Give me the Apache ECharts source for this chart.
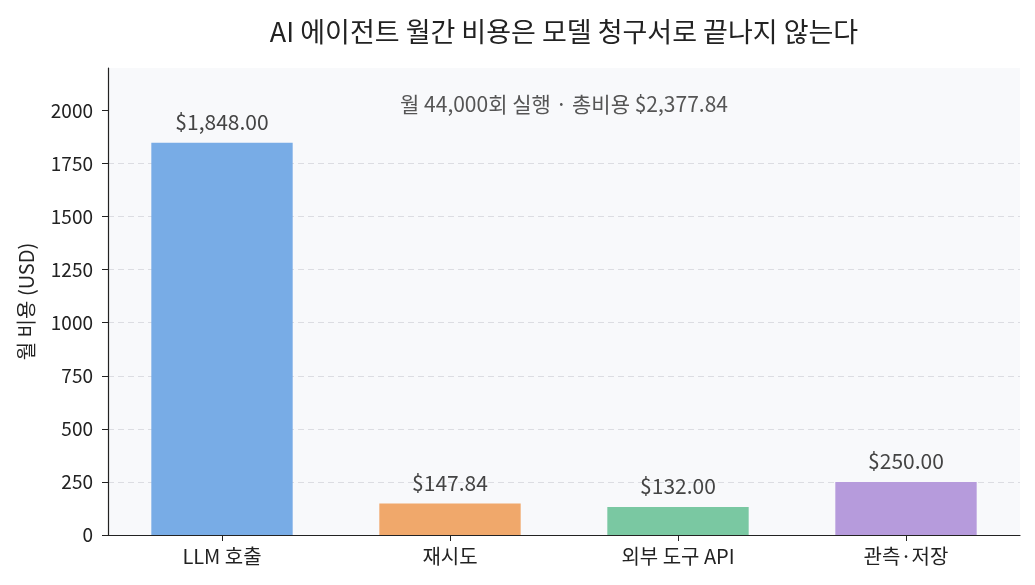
<!DOCTYPE html>
<html>
<head>
<meta charset="utf-8">
<script src="https://cdn.jsdelivr.net/npm/echarts@6/dist/echarts.min.js"></script>
<style>
  html, body { margin: 0; padding: 0; background: #fff; }
  #chart { width: 1035px; height: 585px; }
</style>
</head>
<body>
<div id="chart"></div>
<script>
// 월간 비용 항목
const categories = ['LLM 호출', '재시도', '외부 도구 API', '관측·저장']
const costs = [1848.00, 147.84, 132.00, 250.00]
const barColors = ['#78ace6', '#f0a86b', '#7ac8a2', '#b69bdc']
const yTicks = [0, 250, 500, 750, 1000, 1250, 1500, 1750, 2000]

const font = '"Noto Sans CJK KR", "Noto Sans", sans-serif'

const money = v => '$' + v.toLocaleString('en-US', { minimumFractionDigits: 2, maximumFractionDigits: 2 })
const total = costs.reduce((a, b) => a + b, 0)

let myChart = echarts.init(document.getElementById('chart'))
myChart.setOption({
    animation: false,
    textStyle: { fontFamily: font },
    title: [{
        text: 'AI 에이전트 월간 비용은 모델 청구서로 끝나지 않는다',
        left: 559,
        textAlign: 'center',
        top: 13,
        textStyle: { fontFamily: font, fontSize: 27, fontWeight: 'normal', color: '#222' }
    }, {
        text: '월 44,000회 실행 · 총비용 ' + money(total),
        left: 559,
        textAlign: 'center',
        top: 89,
        textStyle: { fontFamily: font, fontSize: 21, fontWeight: 'normal', color: '#555' }
    }],
    grid: {
        left: 108,
        right: 15,
        top: 68,
        bottom: 50,
        show: true,
        backgroundColor: '#f8f9fb',
        borderWidth: 0
    },
    xAxis: {
        type: 'category',
        data: categories,
        axisLine: { lineStyle: { color: '#222', width: 1.2 } },
        axisTick: { show: true, alignWithLabel: true, length: 6, lineStyle: { color: '#222' } },
        axisLabel: { color: '#222', fontSize: 20, margin: 11, fontFamily: font }
    },
    yAxis: {
        type: 'value',
        min: 0,
        max: 2200,
        interval: 250,
        name: '월 비용 (USD)',
        nameLocation: 'middle',
        nameGap: 72,
        nameRotate: 90,
        nameTextStyle: { color: '#222', fontSize: 20, fontFamily: font },
        axisLine: { show: true, lineStyle: { color: '#222', width: 1.2 } },
        axisTick: { show: true, length: 6, lineStyle: { color: '#222' }, customValues: yTicks },
        axisLabel: { color: '#222', fontSize: 19, margin: 15, fontFamily: font, customValues: yTicks, formatter: v => String(v) },
        splitLine: { show: true, showMaxLine: false, showMinLine: false, lineStyle: { color: '#dcdde2', type: [6, 4], width: 1 } }
    },
    series: [{
        type: 'bar',
        barWidth: '62%',
        data: costs.map((v, i) => ({ value: v, itemStyle: { color: barColors[i] } })),
        label: {
            show: true,
            position: 'top',
            distance: 10,
            formatter: p => money(p.value),
            color: '#444',
            fontSize: 21,
            fontFamily: font
        }
    }]
})
</script>
</body>
</html>
